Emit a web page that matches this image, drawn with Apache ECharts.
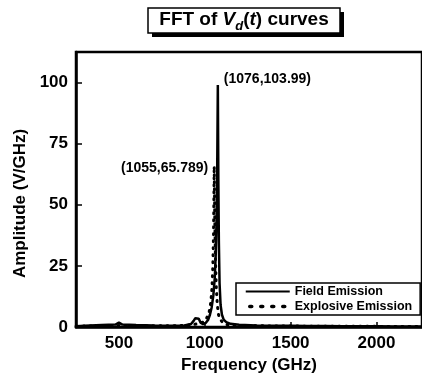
<!DOCTYPE html>
<html><head><meta charset="utf-8">
<script src="https://cdn.jsdelivr.net/npm/echarts@6/dist/echarts.min.js"></script>
<style>html,body{margin:0;padding:0;background:#fff}#c{width:422px;height:381px}</style>
</head><body><div id="c"></div>
<script>
const xTicks = [500, 1000, 1500, 2000];
const yTicks = [0, 25, 50, 75, 100];
const seriesNames = ['Field Emission', 'Explosive Emission'];
const fieldEmission = [[250,0.3],[300,0.5],[400,0.8],[480,1.0],[500,1.8],[520,1.0],[600,0.8],[700,0.6],[800,0.5],[880,0.6],[920,1.2],[935,2.5],[945,3.6],[955,4.0],[965,3.4],[975,1.8],[990,1.2],[1005,1.6],[1020,3],[1030,5],[1040,8],[1050,13],[1058,20],[1064,30],[1068,42],[1072,62],[1076,99],[1079,60],[1082,35],[1086,18],[1092,9],[1100,5],[1110,3],[1125,2],[1150,1.3],[1200,0.9],[1300,0.6],[1400,0.5],[1500,0.5],[1600,0.4],[1700,0.4],[1800,0.3],[1900,0.3],[2000,0.3],[2100,0.2],[2265,0.2]];
const explosiveEmission = [[250,0.3],[400,0.5],[600,0.5],[800,0.5],[900,0.7],[950,1.2],[990,2],[1010,3.5],[1025,6],[1035,10],[1042,16],[1047,25],[1051,38],[1055,65.8],[1058,45],[1062,28],[1067,16],[1073,9],[1080,5],[1090,3],[1105,1.8],[1130,1],[1200,0.6],[1400,0.4],[1800,0.3],[2265,0.2]];
const peakField = {coord:[1076,99], text:'(1076,103.99)'};
const peakExpl = {coord:[1055,65.8], text:'(1055,65.789)'};

const FONT = 'Liberation Sans, Arial, sans-serif';
const chart = echarts.init(document.getElementById('c'), null, {renderer:'canvas'});
chart.setOption({
  animation:false,
  backgroundColor:'#fff',
  graphic:[
    {type:'rect', shape:{x:152,y:12,width:192,height:25}, style:{fill:'#000'}, z:10},
    {type:'rect', shape:{x:148,y:8,width:192,height:25}, style:{fill:'#fff',stroke:'#000',lineWidth:1.5}, z:11},
    {type:'text', x:244, y:20, z:12, style:{
      text:'{n|FFT of }{i|V}{s|d}{n|(}{i|t}{n|) curves}',
      align:'center', verticalAlign:'middle',
      rich:{
        n:{fontFamily:FONT,fontWeight:'bold',fontSize:19,fill:'#000'},
        i:{fontFamily:FONT,fontWeight:'bold',fontStyle:'italic',fontSize:19,fill:'#000'},
        s:{fontFamily:FONT,fontWeight:'bold',fontStyle:'italic',fontSize:13,fill:'#000',padding:[12,0,0,0]}
      }
    }}
  ],
  grid:{left:76, right:-3, top:52, bottom:54, show:true, borderColor:'#000', borderWidth:2.5, backgroundColor:'transparent'},
  legend:{
    orient:'vertical', left:236, top:283,
    data:[
      {name:seriesNames[0]},
      {name:seriesNames[1], lineStyle:{type:[2,9], width:3.5, cap:'round', dashOffset:-4}}
    ],
    itemWidth:44, itemHeight:14, itemGap:2, padding:[2,8,2,8],
    itemStyle:{opacity:0},
    borderColor:'#000', borderWidth:1.5, backgroundColor:'#fff',
    textStyle:{fontFamily:FONT, fontWeight:'bold', fontSize:12.5, color:'#000'}
  },
  xAxis:{
    type:'value', min:250, max:2265,
    name:'Frequency (GHz)', nameLocation:'middle', nameGap:30,
    nameTextStyle:{fontFamily:FONT,fontWeight:'bold',fontSize:17,color:'#000'},
    axisLine:{lineStyle:{color:'#000',width:2.5}},
    axisTick:{inside:true, length:5, lineStyle:{color:'#000',width:1.5}, customValues:xTicks},
    axisLabel:{fontFamily:FONT,fontWeight:'bold',fontSize:17,color:'#000', margin:8, customValues:xTicks, formatter:v=>String(v)},
    splitLine:{show:false}
  },
  yAxis:{
    type:'value', min:0, max:112.5,
    name:'Amplitude (V/GHz)', nameLocation:'middle', nameGap:46,
    nameTextStyle:{fontFamily:FONT,fontWeight:'bold',fontSize:17,color:'#000', padding:[0,28,0,0]},
    axisLine:{lineStyle:{color:'#000',width:2.5}},
    axisTick:{inside:true, length:6, lineStyle:{color:'#000',width:1.5}, customValues:yTicks},
    axisLabel:{fontFamily:FONT,fontWeight:'bold',fontSize:17,color:'#000', margin:8, customValues:yTicks, formatter:v=>String(v)},
    splitLine:{show:false}
  },
  series:[
    {name:seriesNames[0], type:'line', data:fieldEmission, showSymbol:false, symbol:'none',
     lineStyle:{color:'#000', width:2.5}, itemStyle:{color:'#000'}, z:3,
     markPoint:{symbol:'circle', symbolSize:0, data:[{coord:peakField.coord, value:peakField.text}],
       label:{show:true, position:'right', distance:6, offset:[0,-6], formatter:peakField.text,
         fontFamily:FONT,fontWeight:'bold',fontSize:14,color:'#000'}}},
    {name:seriesNames[1], type:'line', data:explosiveEmission, showSymbol:false, symbol:'none',
     lineStyle:{color:'#000', width:3, type:[1,6], cap:'round'}, itemStyle:{color:'#000'}, z:4,
     markPoint:{symbol:'circle', symbolSize:0, data:[{coord:peakExpl.coord, value:peakExpl.text}],
       label:{show:true, position:'left', distance:6, offset:[0,2], formatter:peakExpl.text,
         fontFamily:FONT,fontWeight:'bold',fontSize:14,color:'#000'}}}
  ]
});
</script></body></html>
